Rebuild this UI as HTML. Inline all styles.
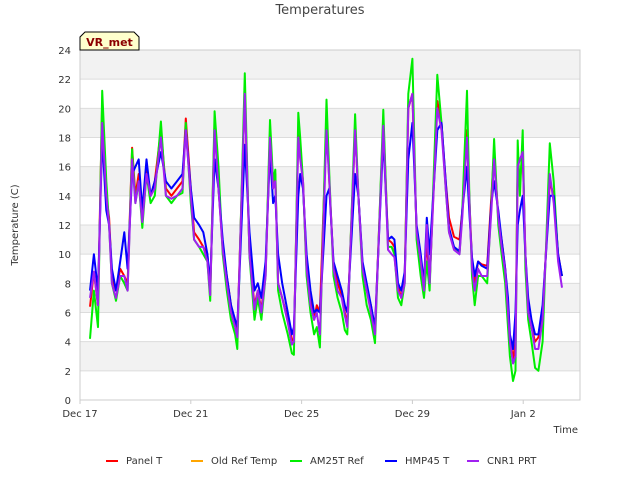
<!DOCTYPE html>
<html><head><meta charset="utf-8"><style>
body{margin:0;background:#fff;font-family:"Liberation Sans",sans-serif}
svg text{font-family:"DejaVu Sans","Liberation Sans",sans-serif}
</style></head><body>
<svg id="chart" width="640" height="480" viewBox="0 0 640 480" xmlns="http://www.w3.org/2000/svg">
<rect width="640" height="480" fill="#fff"/>
<text x="320" y="14" text-anchor="middle" font-size="13" fill="#444">Temperatures</text>
<text transform="translate(18,225) rotate(-90)" text-anchor="middle" font-size="10" fill="#333">Temperature (C)</text>
<text x="578" y="433" text-anchor="end" font-size="10" fill="#333">Time</text>
<g id="bands"></g><g id="axes"></g><g id="series"></g>
<g>
<path d="M80,50 L80,37 L85,32 L134,32 L139,37 L139,50 Z" fill="#ffffcc" stroke="#000" stroke-width="1"/>
<text x="109.5" y="46" text-anchor="middle" font-size="11" font-weight="bold" fill="#8b0000">VR_met</text>
</g>
<g id="legend"></g>
</svg>
<script>
const times=[0.36,0.5,0.65,0.8,0.95,1.05,1.15,1.3,1.45,1.6,1.72,1.88,2.0,2.12,2.25,2.4,2.55,2.7,2.92,3.1,3.3,3.5,3.7,3.82,4.0,4.12,4.3,4.45,4.6,4.7,4.86,5.0,5.15,5.3,5.45,5.6,5.68,5.95,6.12,6.3,6.42,6.55,6.7,6.86,6.97,7.05,7.15,7.3,7.5,7.65,7.72,7.88,7.95,8.05,8.18,8.32,8.45,8.55,8.66,8.9,9.0,9.15,9.3,9.45,9.56,9.65,9.93,10.05,10.2,10.35,10.5,10.65,10.95,11.12,11.25,11.35,11.48,11.6,11.72,11.85,12.0,12.15,12.3,12.42,12.52,12.62,12.9,13.05,13.2,13.32,13.5,13.7,13.8,13.97,14.05,14.15,14.25,14.37,14.5,14.7,14.85,14.95,15.1,15.22,15.35,15.45,15.52,15.63,15.72,15.8,15.88,15.98,16.08,16.18,16.3,16.43,16.55,16.7,16.96,17.1,17.26,17.4];
const panelT=[6.4,8.8,6.5,20.5,14,12.5,8.5,7.5,9,8.5,8,17.3,14,15.5,12.5,16,14,15,18.5,14.5,14,14.5,15,19.3,14.5,11.5,11,10.5,10,7.2,19,14.5,10.5,8.5,6.5,5.2,4.5,21,10,6.5,7.5,6.2,8.8,18.3,14.5,15.5,8,7,5.5,4.2,4,18.3,17,15,9,7,5.5,6.5,6,19,15,9.2,8,7.2,6,5.2,18.5,14,9.3,7.5,6.5,4.8,19,11,10.8,10.5,7.8,7,8.5,20,21,11.5,9.5,7.5,11,8,20.5,19,15,12.5,11.2,11,13,18.5,14,9.5,8,9.5,9.3,9.2,14,17,12.5,11,9,6.5,4.3,2.8,4,16.5,15,17,10,6,5,4,4.3,6,15,14,10,8.5];
const oldRefTemp=[];
const am25tRef=[4.2,7.5,5,21.2,15,12,8,6.8,8.5,8,7.5,17.2,13.5,15,11.8,15.5,13.5,14,19.1,14,13.5,14,14.2,19,13.5,11,10.5,10,9.5,6.8,19.8,16,10,7.5,5.5,4.5,3.5,22.4,9.8,5.5,7,5.5,8.5,19.2,15,15.8,7.5,6,4.5,3.2,3.1,19.7,18,15,8.5,6,4.5,5,3.6,20.6,15.5,8.5,7,6,4.8,4.5,19.6,14,8.5,6.5,5.5,3.9,19.9,10.5,10.5,10,7,6.5,8,21,23.4,11,8.5,7,9.5,7.5,22.3,19,14.5,11.5,10.5,10,13,21.2,14.5,8.5,6.5,8.5,8.5,8,13.5,17.9,12,10,8,5,3,1.3,2,17.8,14,18.5,9,5.5,4,2.2,2,4,17.6,15,9.8,8.5];
const hmp45T=[7.5,10,7.5,18,13,12,9,7.5,9.5,11.5,9,15.5,16,16.5,13,16.5,14,15,17,15,14.5,15,15.5,18.5,14.5,12.5,12,11.5,10,8,16.5,14.5,11,8.5,6.5,5.5,5,17.5,11.5,7.5,8,7,9.5,17,13.5,14,10,8,6,4.5,5,14,15.5,14.5,10,7.5,6,6.2,6,14,14.5,9.5,8.5,7.5,6.5,6,15.5,14,9.5,8,6.5,5,18,11,11.2,11,8,7.5,8.8,16.5,19,12,10,8,12.5,10,18.5,19,15,11.8,10.5,10.2,13,16,13,9.8,8.5,9.5,9.2,9,13.5,15,13,11,9,7,4.5,3.5,6,12,13,14,10,7,5.5,4.5,4.5,6.5,14,14,10,8.5];
const cnr1PRT=[7,8.8,6.5,19,14,12,8,7,8.5,8.5,7.5,16.5,13.5,15,12.2,15.5,14,14.5,18,14,13.8,14,14.5,18.5,14,11,10.5,10.5,9.5,7.2,18.5,14.5,10.3,8,6,5,4.3,21,10,6.2,7.5,6,8.5,18,14.5,15,8,7,5.3,3.8,4,18,16.5,15,9,6.5,5.5,6,4.5,18.5,15,9,7.5,7,5.8,5,18.5,14,9,7.5,6,4.5,18.8,10.3,10,9.8,7.5,7,8,20,21,11.5,9.5,7.5,12,8,20,18.5,14.5,11.5,10.3,10,12.5,18,14,9,7.5,9,8.5,8.5,13,16.5,12.5,10.5,8.8,6,4,2.5,3,16,16.5,17,10,6,5,3.5,3.5,5.5,15.5,13.5,9.5,7.7];
const yTicks=[0,2,4,6,8,10,12,14,16,18,20,22,24];
const xTickDays=[0,4,8,12,16];
const xTickLabels=["Dec 17","Dec 21","Dec 25","Dec 29","Jan 2"];
const legendNames=["Panel T","Old Ref Temp","AM25T Ref","HMP45 T","CNR1 PRT"];
const legendColors=["#ff0000","#ffa500","#00ee00","#0000ff","#a020f0"];

const NS="http://www.w3.org/2000/svg";
const L=80,R=580,T=50,B=400,TMAX=18.05,VMAX=24;
const xs=t=>L+t/TMAX*(R-L);
const ys=v=>B-v/VMAX*(B-T);
function mk(tag,attrs,parent){const e=document.createElementNS(NS,tag);for(const k in attrs)e.setAttribute(k,attrs[k]);parent.appendChild(e);return e;}
const bands=document.getElementById('bands'),axes=document.getElementById('axes'),ser=document.getElementById('series'),leg=document.getElementById('legend');
mk('rect',{x:L,y:T,width:R-L,height:B-T,fill:'#fff'},bands);
for(let i=0;i<yTicks.length-1;i++){
  if(i%2===1){const r=mk('rect',{x:L,y:ys(yTicks[i+1]),width:R-L,height:ys(yTicks[i])-ys(yTicks[i+1]),fill:'#f2f2f2'},bands);
  
  }
}
yTicks.forEach(v=>{
  const g=mk('line',{x1:L,x2:R,y1:ys(v),y2:ys(v),stroke:'#dcdcdc','stroke-width':1},bands);
  
  
  const t=mk('text',{x:L-9,y:ys(v)+4,'text-anchor':'end','font-size':10,fill:'#333'},axes);t.textContent=v;
  
  
});
xTickDays.forEach((d,i)=>{
  const t=mk('text',{x:xs(d),y:417,'text-anchor':'middle','font-size':10,fill:'#333'},axes);t.textContent=xTickLabels[i];
  
  
  mk('line',{x1:xs(d),x2:xs(d),y1:B,y2:B+4,stroke:'#ccc'},axes);
});
const fr=mk('rect',{x:L,y:T,width:R-L,height:B-T,fill:'none',stroke:'#ccc','stroke-width':1},axes);


const seriesList=[[panelT,0,'panel-t-line'],[oldRefTemp,1,'old-ref-temp-line'],[am25tRef,2,'am25t-ref-line'],[hmp45T,3,'hmp45-t-line'],[cnr1PRT,4,'cnr1-prt-line']];
seriesList.forEach(([vals,ci,name])=>{
  if(!vals.length)return;
  const d=vals.map((v,i)=>(i?'L':'M')+xs(times[i]).toFixed(1)+','+ys(v).toFixed(1)).join(' ');
  const p=mk('path',{d:d,fill:'none',stroke:legendColors[ci],'stroke-width':2,'stroke-linejoin':'round'},ser);
  
  
});
const lx=[106,191,290,385,467];
legendNames.forEach((n,i)=>{
  const g=mk('g',{},leg);
  
  
  mk('line',{x1:lx[i],x2:lx[i]+12,y1:461,y2:461,stroke:legendColors[i],'stroke-width':2},g);
  const t=mk('text',{x:lx[i]+20,y:464,'font-size':10,fill:'#333'},g);t.textContent=n;
});
</script>
</body></html>
